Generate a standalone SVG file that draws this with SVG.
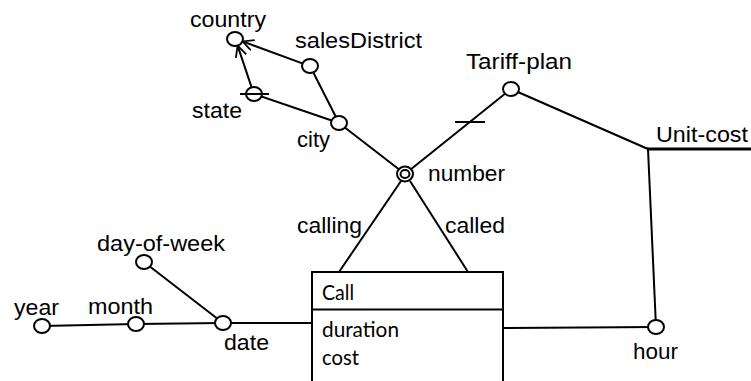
<svg xmlns="http://www.w3.org/2000/svg" width="751" height="381" viewBox="0 0 751 381">
<defs>
<style>
.c{fill:#fff;stroke:#000;stroke-width:2}
.l{stroke:#000;stroke-width:2;fill:none}
.t{font-family:"Liberation Sans",Arial,sans-serif;font-size:22px;fill:#000}
.b{font-family:Lato,"Open Sans","Liberation Sans",sans-serif;font-size:21px;fill:#000}
</style>
<marker id="ah" viewBox="0 0 11 12" refX="11" refY="6" markerWidth="11" markerHeight="12" markerUnits="userSpaceOnUse" orient="auto">
<path d="M0,0.5 L11,6 L0,11.5" fill="none" stroke="#000" stroke-width="1.8"/>
</marker>
</defs>
<rect width="751" height="381" fill="#fff"/>
<g id="connectors">
<line class="l" x1="303" y1="63.6" x2="242.5" y2="41.4" marker-end="url(#ah)"/>
<line class="l" x1="251.6" y1="87.4" x2="237.6" y2="45.6" marker-end="url(#ah)"/>
<line class="l" x1="339" y1="123" x2="310" y2="66"/>
<line class="l" x1="339" y1="123" x2="254" y2="94"/>
<line class="l" x1="339" y1="123" x2="405" y2="174"/>
<line class="l" x1="405" y1="174" x2="511" y2="89"/>
<line class="l" x1="455" y1="122" x2="485" y2="122"/>
<line class="l" x1="511" y1="89" x2="648" y2="149"/>
<line class="l" x1="648" y1="149" x2="656" y2="327"/>
<line x1="647" y1="149" x2="751" y2="149" stroke="#000" stroke-width="2.8"/>
<line class="l" x1="401" y1="181" x2="339" y2="272"/>
<line class="l" x1="410" y1="181" x2="468" y2="272"/>
<line class="l" x1="503" y1="328" x2="656" y2="327"/>
<line class="l" x1="223" y1="323" x2="312" y2="323"/>
<line class="l" x1="223" y1="323" x2="136" y2="324"/>
<line class="l" x1="136" y1="324" x2="42" y2="326"/>
<line class="l" x1="223" y1="323" x2="144" y2="262"/>
</g>
<g id="country"><ellipse class="c" cx="235" cy="39" rx="8" ry="7"/><text class="t" x="190" y="27" textLength="76" lengthAdjust="spacingAndGlyphs">country</text></g>
<g id="salesDistrict"><ellipse class="c" cx="310" cy="66" rx="8" ry="7"/><text class="t" x="295" y="48" textLength="127" lengthAdjust="spacingAndGlyphs">salesDistrict</text></g>
<g id="state"><ellipse class="c" cx="254" cy="94" rx="8" ry="7"/><line class="l" x1="240" y1="94" x2="269" y2="94"/><text class="t" x="192" y="118" textLength="50" lengthAdjust="spacingAndGlyphs">state</text></g>
<g id="city"><ellipse class="c" cx="339" cy="123" rx="8" ry="7"/><text class="t" x="297" y="147" textLength="33" lengthAdjust="spacingAndGlyphs">city</text></g>
<g id="number"><ellipse class="c" cx="405" cy="174" rx="8" ry="7.5"/><ellipse class="c" cx="405" cy="174" rx="4.5" ry="4"/><text class="t" x="428" y="181" textLength="77" lengthAdjust="spacingAndGlyphs">number</text></g>
<g id="Tariff-plan"><ellipse class="c" cx="511" cy="89" rx="8" ry="7"/><text class="t" x="466" y="69" textLength="106" lengthAdjust="spacingAndGlyphs">Tariff-plan</text></g>
<g id="Unit-cost"><text class="t" x="656" y="142" textLength="92" lengthAdjust="spacingAndGlyphs">Unit-cost</text></g>
<g id="hour"><ellipse class="c" cx="656" cy="327" rx="8" ry="7"/><text class="t" x="633" y="359" textLength="45" lengthAdjust="spacingAndGlyphs">hour</text></g>
<g id="date"><ellipse class="c" cx="223" cy="323" rx="8" ry="7"/><text class="t" x="224" y="350" textLength="45" lengthAdjust="spacingAndGlyphs">date</text></g>
<g id="month"><ellipse class="c" cx="136" cy="324" rx="8" ry="7"/><text class="t" x="88" y="314" textLength="65" lengthAdjust="spacingAndGlyphs">month</text></g>
<g id="year"><ellipse class="c" cx="42" cy="326" rx="8" ry="7"/><text class="t" x="14" y="315" textLength="45" lengthAdjust="spacingAndGlyphs">year</text></g>
<g id="day-of-week"><ellipse class="c" cx="144" cy="262" rx="8" ry="7"/><text class="t" x="97" y="251" textLength="128" lengthAdjust="spacingAndGlyphs">day-of-week</text></g>
<g id="labels">
<text class="t" x="297" y="233" textLength="65" lengthAdjust="spacingAndGlyphs">calling</text>
<text class="t" x="445" y="233" textLength="60" lengthAdjust="spacingAndGlyphs">called</text>
</g>
<g id="Call">
<rect x="312" y="272" width="191" height="120" fill="#fff" stroke="#000" stroke-width="2"/>
<line class="l" x1="312" y1="309.5" x2="503" y2="309.5"/>
<text class="b" x="322" y="300" textLength="32" lengthAdjust="spacingAndGlyphs">Call</text>
<text class="b" x="322" y="337" textLength="77" lengthAdjust="spacingAndGlyphs">duration</text>
<text class="b" x="322" y="365" textLength="37" lengthAdjust="spacingAndGlyphs">cost</text>
</g>
</svg>
